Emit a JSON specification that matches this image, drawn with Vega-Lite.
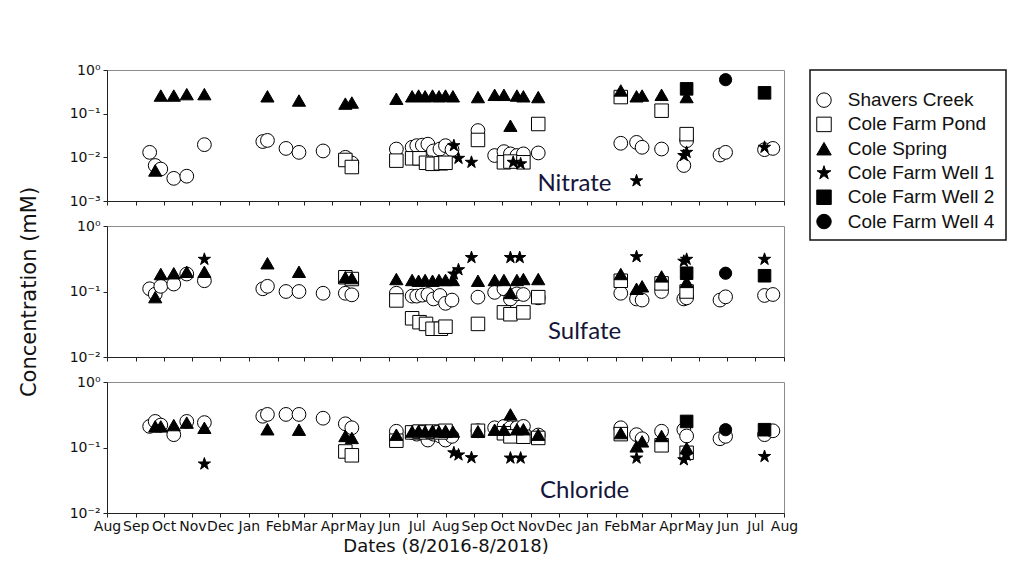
{
  "$schema": "https://vega.github.io/schema/vega-lite/v6.json",
  "background": "white",
  "padding": {"left": 17, "top": 62, "right": 8, "bottom": 5},
  "datasets": {
    "nitrate": [
      {"date": "2016/09/16", "site": "Shavers Creek", "value": 0.013},
      {"date": "2016/09/22", "site": "Shavers Creek", "value": 0.0065},
      {"date": "2016/09/28", "site": "Shavers Creek", "value": 0.0054},
      {"date": "2016/10/12", "site": "Shavers Creek", "value": 0.0033},
      {"date": "2016/10/26", "site": "Shavers Creek", "value": 0.0037},
      {"date": "2016/11/14", "site": "Shavers Creek", "value": 0.0195},
      {"date": "2017/01/16", "site": "Shavers Creek", "value": 0.023},
      {"date": "2017/01/21", "site": "Shavers Creek", "value": 0.0244},
      {"date": "2017/02/10", "site": "Shavers Creek", "value": 0.016},
      {"date": "2017/02/24", "site": "Shavers Creek", "value": 0.013},
      {"date": "2017/03/22", "site": "Shavers Creek", "value": 0.014},
      {"date": "2017/04/15", "site": "Shavers Creek", "value": 0.010},
      {"date": "2017/04/22", "site": "Shavers Creek", "value": 0.0074},
      {"date": "2017/06/09", "site": "Shavers Creek", "value": 0.0155},
      {"date": "2017/06/26", "site": "Shavers Creek", "value": 0.017},
      {"date": "2017/07/01", "site": "Shavers Creek", "value": 0.0185},
      {"date": "2017/07/07", "site": "Shavers Creek", "value": 0.019},
      {"date": "2017/07/13", "site": "Shavers Creek", "value": 0.020},
      {"date": "2017/07/19", "site": "Shavers Creek", "value": 0.014},
      {"date": "2017/07/26", "site": "Shavers Creek", "value": 0.0155},
      {"date": "2017/08/01", "site": "Shavers Creek", "value": 0.0185},
      {"date": "2017/08/08", "site": "Shavers Creek", "value": 0.015},
      {"date": "2017/09/05", "site": "Shavers Creek", "value": 0.041},
      {"date": "2017/09/23", "site": "Shavers Creek", "value": 0.011},
      {"date": "2017/10/03", "site": "Shavers Creek", "value": 0.0135},
      {"date": "2017/10/10", "site": "Shavers Creek", "value": 0.012},
      {"date": "2017/10/17", "site": "Shavers Creek", "value": 0.011},
      {"date": "2017/10/24", "site": "Shavers Creek", "value": 0.012},
      {"date": "2017/11/09", "site": "Shavers Creek", "value": 0.0126},
      {"date": "2018/02/06", "site": "Shavers Creek", "value": 0.021},
      {"date": "2018/02/23", "site": "Shavers Creek", "value": 0.022},
      {"date": "2018/03/01", "site": "Shavers Creek", "value": 0.017},
      {"date": "2018/03/22", "site": "Shavers Creek", "value": 0.0155},
      {"date": "2018/04/15", "site": "Shavers Creek", "value": 0.0065},
      {"date": "2018/04/18", "site": "Shavers Creek", "value": 0.024},
      {"date": "2018/05/24", "site": "Shavers Creek", "value": 0.0113},
      {"date": "2018/05/30", "site": "Shavers Creek", "value": 0.013},
      {"date": "2018/07/11", "site": "Shavers Creek", "value": 0.015},
      {"date": "2018/07/20", "site": "Shavers Creek", "value": 0.016},
      {"date": "2017/04/15", "site": "Cole Farm Pond", "value": 0.0087},
      {"date": "2017/04/22", "site": "Cole Farm Pond", "value": 0.006},
      {"date": "2017/06/09", "site": "Cole Farm Pond", "value": 0.0084},
      {"date": "2017/06/26", "site": "Cole Farm Pond", "value": 0.0095},
      {"date": "2017/07/04", "site": "Cole Farm Pond", "value": 0.0095},
      {"date": "2017/07/11", "site": "Cole Farm Pond", "value": 0.0075},
      {"date": "2017/07/18", "site": "Cole Farm Pond", "value": 0.0071},
      {"date": "2017/07/27", "site": "Cole Farm Pond", "value": 0.0073},
      {"date": "2017/08/01", "site": "Cole Farm Pond", "value": 0.0075},
      {"date": "2017/09/05", "site": "Cole Farm Pond", "value": 0.025},
      {"date": "2017/10/03", "site": "Cole Farm Pond", "value": 0.0077},
      {"date": "2017/10/10", "site": "Cole Farm Pond", "value": 0.008},
      {"date": "2017/10/24", "site": "Cole Farm Pond", "value": 0.0077},
      {"date": "2017/11/09", "site": "Cole Farm Pond", "value": 0.058},
      {"date": "2018/02/06", "site": "Cole Farm Pond", "value": 0.24},
      {"date": "2018/03/22", "site": "Cole Farm Pond", "value": 0.117},
      {"date": "2018/04/18", "site": "Cole Farm Pond", "value": 0.034},
      {"date": "2016/09/22", "site": "Cole Spring", "value": 0.005},
      {"date": "2016/09/28", "site": "Cole Spring", "value": 0.26},
      {"date": "2016/10/12", "site": "Cole Spring", "value": 0.26},
      {"date": "2016/10/26", "site": "Cole Spring", "value": 0.28},
      {"date": "2016/11/14", "site": "Cole Spring", "value": 0.28},
      {"date": "2017/01/21", "site": "Cole Spring", "value": 0.25},
      {"date": "2017/02/24", "site": "Cole Spring", "value": 0.2},
      {"date": "2017/04/15", "site": "Cole Spring", "value": 0.17},
      {"date": "2017/04/22", "site": "Cole Spring", "value": 0.18},
      {"date": "2017/06/09", "site": "Cole Spring", "value": 0.22},
      {"date": "2017/06/26", "site": "Cole Spring", "value": 0.25},
      {"date": "2017/07/03", "site": "Cole Spring", "value": 0.26},
      {"date": "2017/07/10", "site": "Cole Spring", "value": 0.25},
      {"date": "2017/07/18", "site": "Cole Spring", "value": 0.26},
      {"date": "2017/07/25", "site": "Cole Spring", "value": 0.25},
      {"date": "2017/08/01", "site": "Cole Spring", "value": 0.26},
      {"date": "2017/08/09", "site": "Cole Spring", "value": 0.25},
      {"date": "2017/09/05", "site": "Cole Spring", "value": 0.24},
      {"date": "2017/09/23", "site": "Cole Spring", "value": 0.27},
      {"date": "2017/10/03", "site": "Cole Spring", "value": 0.27},
      {"date": "2017/10/10", "site": "Cole Spring", "value": 0.053},
      {"date": "2017/10/17", "site": "Cole Spring", "value": 0.26},
      {"date": "2017/10/24", "site": "Cole Spring", "value": 0.25},
      {"date": "2017/11/09", "site": "Cole Spring", "value": 0.24},
      {"date": "2018/02/06", "site": "Cole Spring", "value": 0.34},
      {"date": "2018/02/23", "site": "Cole Spring", "value": 0.25},
      {"date": "2018/03/01", "site": "Cole Spring", "value": 0.26},
      {"date": "2018/03/22", "site": "Cole Spring", "value": 0.27},
      {"date": "2018/04/18", "site": "Cole Spring", "value": 0.24},
      {"date": "2017/08/10", "site": "Cole Farm Well 1", "value": 0.0185},
      {"date": "2017/08/15", "site": "Cole Farm Well 1", "value": 0.0095},
      {"date": "2017/08/29", "site": "Cole Farm Well 1", "value": 0.0077},
      {"date": "2017/10/13", "site": "Cole Farm Well 1", "value": 0.0077},
      {"date": "2017/10/21", "site": "Cole Farm Well 1", "value": 0.0071},
      {"date": "2018/02/23", "site": "Cole Farm Well 1", "value": 0.0029},
      {"date": "2018/04/15", "site": "Cole Farm Well 1", "value": 0.011},
      {"date": "2018/04/18", "site": "Cole Farm Well 1", "value": 0.013},
      {"date": "2018/07/11", "site": "Cole Farm Well 1", "value": 0.017},
      {"date": "2018/04/18", "site": "Cole Farm Well 2", "value": 0.37},
      {"date": "2018/07/11", "site": "Cole Farm Well 2", "value": 0.3},
      {"date": "2018/05/30", "site": "Cole Farm Well 4", "value": 0.6}
    ],
    "sulfate": [
      {"date": "2016/09/16", "site": "Shavers Creek", "value": 0.11},
      {"date": "2016/09/22", "site": "Shavers Creek", "value": 0.091},
      {"date": "2016/09/28", "site": "Shavers Creek", "value": 0.12},
      {"date": "2016/10/12", "site": "Shavers Creek", "value": 0.13},
      {"date": "2016/10/26", "site": "Shavers Creek", "value": 0.185},
      {"date": "2016/11/14", "site": "Shavers Creek", "value": 0.146},
      {"date": "2017/01/16", "site": "Shavers Creek", "value": 0.11},
      {"date": "2017/01/21", "site": "Shavers Creek", "value": 0.12},
      {"date": "2017/02/10", "site": "Shavers Creek", "value": 0.10},
      {"date": "2017/02/24", "site": "Shavers Creek", "value": 0.10},
      {"date": "2017/03/22", "site": "Shavers Creek", "value": 0.094},
      {"date": "2017/04/15", "site": "Shavers Creek", "value": 0.094},
      {"date": "2017/04/22", "site": "Shavers Creek", "value": 0.089},
      {"date": "2017/06/09", "site": "Shavers Creek", "value": 0.094},
      {"date": "2017/06/26", "site": "Shavers Creek", "value": 0.085},
      {"date": "2017/07/01", "site": "Shavers Creek", "value": 0.085},
      {"date": "2017/07/07", "site": "Shavers Creek", "value": 0.088},
      {"date": "2017/07/13", "site": "Shavers Creek", "value": 0.09},
      {"date": "2017/07/19", "site": "Shavers Creek", "value": 0.077},
      {"date": "2017/07/26", "site": "Shavers Creek", "value": 0.087},
      {"date": "2017/08/01", "site": "Shavers Creek", "value": 0.066},
      {"date": "2017/08/08", "site": "Shavers Creek", "value": 0.074},
      {"date": "2017/09/05", "site": "Shavers Creek", "value": 0.082},
      {"date": "2017/09/23", "site": "Shavers Creek", "value": 0.097},
      {"date": "2017/10/03", "site": "Shavers Creek", "value": 0.11},
      {"date": "2017/10/10", "site": "Shavers Creek", "value": 0.077},
      {"date": "2017/10/17", "site": "Shavers Creek", "value": 0.092},
      {"date": "2017/10/24", "site": "Shavers Creek", "value": 0.09},
      {"date": "2017/11/09", "site": "Shavers Creek", "value": 0.08},
      {"date": "2018/02/06", "site": "Shavers Creek", "value": 0.094},
      {"date": "2018/02/23", "site": "Shavers Creek", "value": 0.077},
      {"date": "2018/03/01", "site": "Shavers Creek", "value": 0.074},
      {"date": "2018/03/22", "site": "Shavers Creek", "value": 0.10},
      {"date": "2018/04/15", "site": "Shavers Creek", "value": 0.077},
      {"date": "2018/04/18", "site": "Shavers Creek", "value": 0.08},
      {"date": "2018/05/24", "site": "Shavers Creek", "value": 0.074},
      {"date": "2018/05/30", "site": "Shavers Creek", "value": 0.083},
      {"date": "2018/07/11", "site": "Shavers Creek", "value": 0.087},
      {"date": "2018/07/20", "site": "Shavers Creek", "value": 0.09},
      {"date": "2017/04/15", "site": "Cole Farm Pond", "value": 0.165},
      {"date": "2017/04/22", "site": "Cole Farm Pond", "value": 0.155},
      {"date": "2017/06/09", "site": "Cole Farm Pond", "value": 0.073},
      {"date": "2017/06/26", "site": "Cole Farm Pond", "value": 0.039},
      {"date": "2017/07/04", "site": "Cole Farm Pond", "value": 0.034},
      {"date": "2017/07/11", "site": "Cole Farm Pond", "value": 0.032},
      {"date": "2017/07/18", "site": "Cole Farm Pond", "value": 0.027},
      {"date": "2017/07/27", "site": "Cole Farm Pond", "value": 0.027},
      {"date": "2017/08/01", "site": "Cole Farm Pond", "value": 0.029},
      {"date": "2017/09/05", "site": "Cole Farm Pond", "value": 0.032},
      {"date": "2017/10/03", "site": "Cole Farm Pond", "value": 0.048},
      {"date": "2017/10/10", "site": "Cole Farm Pond", "value": 0.045},
      {"date": "2017/10/24", "site": "Cole Farm Pond", "value": 0.048},
      {"date": "2017/11/09", "site": "Cole Farm Pond", "value": 0.082},
      {"date": "2018/02/06", "site": "Cole Farm Pond", "value": 0.146},
      {"date": "2018/03/22", "site": "Cole Farm Pond", "value": 0.133},
      {"date": "2018/04/18", "site": "Cole Farm Pond", "value": 0.1},
      {"date": "2016/09/22", "site": "Cole Spring", "value": 0.082},
      {"date": "2016/09/28", "site": "Cole Spring", "value": 0.185},
      {"date": "2016/10/12", "site": "Cole Spring", "value": 0.19},
      {"date": "2016/10/26", "site": "Cole Spring", "value": 0.2},
      {"date": "2016/11/14", "site": "Cole Spring", "value": 0.2},
      {"date": "2017/01/21", "site": "Cole Spring", "value": 0.27},
      {"date": "2017/02/24", "site": "Cole Spring", "value": 0.2},
      {"date": "2017/04/15", "site": "Cole Spring", "value": 0.165},
      {"date": "2017/04/22", "site": "Cole Spring", "value": 0.16},
      {"date": "2017/06/09", "site": "Cole Spring", "value": 0.155},
      {"date": "2017/06/26", "site": "Cole Spring", "value": 0.15},
      {"date": "2017/07/03", "site": "Cole Spring", "value": 0.146},
      {"date": "2017/07/10", "site": "Cole Spring", "value": 0.15},
      {"date": "2017/07/18", "site": "Cole Spring", "value": 0.146},
      {"date": "2017/07/25", "site": "Cole Spring", "value": 0.15},
      {"date": "2017/08/01", "site": "Cole Spring", "value": 0.15},
      {"date": "2017/08/09", "site": "Cole Spring", "value": 0.15},
      {"date": "2017/09/05", "site": "Cole Spring", "value": 0.146},
      {"date": "2017/09/23", "site": "Cole Spring", "value": 0.15},
      {"date": "2017/10/03", "site": "Cole Spring", "value": 0.15},
      {"date": "2017/10/10", "site": "Cole Spring", "value": 0.095},
      {"date": "2017/10/17", "site": "Cole Spring", "value": 0.15},
      {"date": "2017/10/24", "site": "Cole Spring", "value": 0.155},
      {"date": "2017/11/09", "site": "Cole Spring", "value": 0.155},
      {"date": "2018/02/06", "site": "Cole Spring", "value": 0.185},
      {"date": "2018/02/23", "site": "Cole Spring", "value": 0.11},
      {"date": "2018/03/01", "site": "Cole Spring", "value": 0.12},
      {"date": "2018/03/22", "site": "Cole Spring", "value": 0.17},
      {"date": "2018/04/18", "site": "Cole Spring", "value": 0.14},
      {"date": "2016/11/14", "site": "Cole Farm Well 1", "value": 0.31},
      {"date": "2017/08/10", "site": "Cole Farm Well 1", "value": 0.185},
      {"date": "2017/08/15", "site": "Cole Farm Well 1", "value": 0.215},
      {"date": "2017/08/29", "site": "Cole Farm Well 1", "value": 0.33},
      {"date": "2017/10/10", "site": "Cole Farm Well 1", "value": 0.33},
      {"date": "2017/10/20", "site": "Cole Farm Well 1", "value": 0.33},
      {"date": "2018/02/23", "site": "Cole Farm Well 1", "value": 0.34},
      {"date": "2018/04/15", "site": "Cole Farm Well 1", "value": 0.29},
      {"date": "2018/04/18", "site": "Cole Farm Well 1", "value": 0.31},
      {"date": "2018/07/11", "site": "Cole Farm Well 1", "value": 0.31},
      {"date": "2018/04/18", "site": "Cole Farm Well 2", "value": 0.19},
      {"date": "2018/07/11", "site": "Cole Farm Well 2", "value": 0.174},
      {"date": "2018/05/30", "site": "Cole Farm Well 4", "value": 0.19}
    ],
    "chloride": [
      {"date": "2016/09/16", "site": "Shavers Creek", "value": 0.21},
      {"date": "2016/09/22", "site": "Shavers Creek", "value": 0.25},
      {"date": "2016/09/28", "site": "Shavers Creek", "value": 0.22},
      {"date": "2016/10/12", "site": "Shavers Creek", "value": 0.157},
      {"date": "2016/10/26", "site": "Shavers Creek", "value": 0.25},
      {"date": "2016/11/14", "site": "Shavers Creek", "value": 0.24},
      {"date": "2017/01/16", "site": "Shavers Creek", "value": 0.30},
      {"date": "2017/01/21", "site": "Shavers Creek", "value": 0.32},
      {"date": "2017/02/10", "site": "Shavers Creek", "value": 0.32},
      {"date": "2017/02/24", "site": "Shavers Creek", "value": 0.32},
      {"date": "2017/03/22", "site": "Shavers Creek", "value": 0.28},
      {"date": "2017/04/15", "site": "Shavers Creek", "value": 0.23},
      {"date": "2017/04/22", "site": "Shavers Creek", "value": 0.20},
      {"date": "2017/06/09", "site": "Shavers Creek", "value": 0.177},
      {"date": "2017/06/26", "site": "Shavers Creek", "value": 0.17},
      {"date": "2017/07/01", "site": "Shavers Creek", "value": 0.16},
      {"date": "2017/07/07", "site": "Shavers Creek", "value": 0.165},
      {"date": "2017/07/13", "site": "Shavers Creek", "value": 0.13},
      {"date": "2017/07/19", "site": "Shavers Creek", "value": 0.16},
      {"date": "2017/07/26", "site": "Shavers Creek", "value": 0.15},
      {"date": "2017/08/01", "site": "Shavers Creek", "value": 0.13},
      {"date": "2017/08/08", "site": "Shavers Creek", "value": 0.148},
      {"date": "2017/09/05", "site": "Shavers Creek", "value": 0.18},
      {"date": "2017/09/23", "site": "Shavers Creek", "value": 0.20},
      {"date": "2017/10/03", "site": "Shavers Creek", "value": 0.21},
      {"date": "2017/10/10", "site": "Shavers Creek", "value": 0.20},
      {"date": "2017/10/17", "site": "Shavers Creek", "value": 0.20},
      {"date": "2017/10/24", "site": "Shavers Creek", "value": 0.21},
      {"date": "2017/11/09", "site": "Shavers Creek", "value": 0.155},
      {"date": "2018/02/06", "site": "Shavers Creek", "value": 0.20},
      {"date": "2018/02/23", "site": "Shavers Creek", "value": 0.157},
      {"date": "2018/03/01", "site": "Shavers Creek", "value": 0.136},
      {"date": "2018/03/22", "site": "Shavers Creek", "value": 0.177},
      {"date": "2018/04/15", "site": "Shavers Creek", "value": 0.187},
      {"date": "2018/04/18", "site": "Shavers Creek", "value": 0.15},
      {"date": "2018/05/24", "site": "Shavers Creek", "value": 0.136},
      {"date": "2018/05/30", "site": "Shavers Creek", "value": 0.148},
      {"date": "2018/07/11", "site": "Shavers Creek", "value": 0.157},
      {"date": "2018/07/20", "site": "Shavers Creek", "value": 0.18},
      {"date": "2017/04/15", "site": "Cole Farm Pond", "value": 0.087},
      {"date": "2017/04/22", "site": "Cole Farm Pond", "value": 0.076},
      {"date": "2017/06/09", "site": "Cole Farm Pond", "value": 0.127},
      {"date": "2017/06/26", "site": "Cole Farm Pond", "value": 0.17},
      {"date": "2017/07/04", "site": "Cole Farm Pond", "value": 0.175},
      {"date": "2017/07/11", "site": "Cole Farm Pond", "value": 0.17},
      {"date": "2017/07/18", "site": "Cole Farm Pond", "value": 0.175},
      {"date": "2017/07/27", "site": "Cole Farm Pond", "value": 0.17},
      {"date": "2017/08/01", "site": "Cole Farm Pond", "value": 0.18},
      {"date": "2017/09/05", "site": "Cole Farm Pond", "value": 0.18},
      {"date": "2017/10/03", "site": "Cole Farm Pond", "value": 0.165},
      {"date": "2017/10/10", "site": "Cole Farm Pond", "value": 0.148},
      {"date": "2017/10/24", "site": "Cole Farm Pond", "value": 0.146},
      {"date": "2017/11/09", "site": "Cole Farm Pond", "value": 0.14},
      {"date": "2018/02/06", "site": "Cole Farm Pond", "value": 0.16},
      {"date": "2018/03/22", "site": "Cole Farm Pond", "value": 0.108},
      {"date": "2018/04/18", "site": "Cole Farm Pond", "value": 0.083},
      {"date": "2016/09/22", "site": "Cole Spring", "value": 0.21},
      {"date": "2016/09/28", "site": "Cole Spring", "value": 0.21},
      {"date": "2016/10/12", "site": "Cole Spring", "value": 0.22},
      {"date": "2016/10/26", "site": "Cole Spring", "value": 0.24},
      {"date": "2016/11/14", "site": "Cole Spring", "value": 0.2},
      {"date": "2017/01/21", "site": "Cole Spring", "value": 0.19},
      {"date": "2017/02/24", "site": "Cole Spring", "value": 0.187},
      {"date": "2017/04/15", "site": "Cole Spring", "value": 0.15},
      {"date": "2017/04/22", "site": "Cole Spring", "value": 0.14},
      {"date": "2017/06/09", "site": "Cole Spring", "value": 0.157},
      {"date": "2017/06/26", "site": "Cole Spring", "value": 0.175},
      {"date": "2017/07/03", "site": "Cole Spring", "value": 0.18},
      {"date": "2017/07/10", "site": "Cole Spring", "value": 0.175},
      {"date": "2017/07/18", "site": "Cole Spring", "value": 0.18},
      {"date": "2017/07/25", "site": "Cole Spring", "value": 0.175},
      {"date": "2017/08/01", "site": "Cole Spring", "value": 0.18},
      {"date": "2017/08/09", "site": "Cole Spring", "value": 0.175},
      {"date": "2017/09/05", "site": "Cole Spring", "value": 0.177},
      {"date": "2017/09/23", "site": "Cole Spring", "value": 0.187},
      {"date": "2017/10/03", "site": "Cole Spring", "value": 0.187},
      {"date": "2017/10/10", "site": "Cole Spring", "value": 0.32},
      {"date": "2017/10/17", "site": "Cole Spring", "value": 0.19},
      {"date": "2017/10/24", "site": "Cole Spring", "value": 0.19},
      {"date": "2017/11/09", "site": "Cole Spring", "value": 0.157},
      {"date": "2018/02/06", "site": "Cole Spring", "value": 0.166},
      {"date": "2018/02/23", "site": "Cole Spring", "value": 0.104},
      {"date": "2018/03/01", "site": "Cole Spring", "value": 0.124},
      {"date": "2018/03/22", "site": "Cole Spring", "value": 0.15},
      {"date": "2018/04/18", "site": "Cole Spring", "value": 0.098},
      {"date": "2016/11/14", "site": "Cole Farm Well 1", "value": 0.056},
      {"date": "2017/08/10", "site": "Cole Farm Well 1", "value": 0.083},
      {"date": "2017/08/15", "site": "Cole Farm Well 1", "value": 0.077},
      {"date": "2017/08/29", "site": "Cole Farm Well 1", "value": 0.07},
      {"date": "2017/10/10", "site": "Cole Farm Well 1", "value": 0.069},
      {"date": "2017/10/21", "site": "Cole Farm Well 1", "value": 0.069},
      {"date": "2018/02/23", "site": "Cole Farm Well 1", "value": 0.069},
      {"date": "2018/04/15", "site": "Cole Farm Well 1", "value": 0.065},
      {"date": "2018/04/18", "site": "Cole Farm Well 1", "value": 0.076},
      {"date": "2018/07/11", "site": "Cole Farm Well 1", "value": 0.073},
      {"date": "2018/04/18", "site": "Cole Farm Well 2", "value": 0.25},
      {"date": "2018/07/11", "site": "Cole Farm Well 2", "value": 0.187},
      {"date": "2018/05/30", "site": "Cole Farm Well 4", "value": 0.187}
    ],
    "labels": [
      {"date": "2017/12/18", "panel": "Nitrate", "value": 0.00245},
      {"date": "2017/12/29", "panel": "Sulfate", "value": 0.024},
      {"date": "2017/12/29", "panel": "Chloride", "value": 0.0219}
    ],
    "sites": [
      {"site": "Shavers Creek"},
      {"site": "Cole Farm Pond"},
      {"site": "Cole Spring"},
      {"site": "Cole Farm Well 1"},
      {"site": "Cole Farm Well 2"},
      {"site": "Cole Farm Well 4"}
    ]
  },
  "spacing": 10,
  "hconcat": [
    {
      "spacing": 25,
      "bounds": "flush",
      "vconcat": [
        {
          "width": 677,
          "height": 131,
          "encoding": {
            "x": {"field": "date", "type": "temporal",
                  "scale": {"domain": [{"year": 2016, "month": 8, "date": 1}, {"year": 2018, "month": 8, "date": 1}], "nice": false},
                  "axis": {"labels": false, "title": null, "tickCount": {"interval": "month", "step": 1}}},
            "y": {"field": "value", "type": "quantitative",
                  "scale": {"type": "log", "domain": [0.001, 1], "nice": false},
                  "axis": {"values": [0.001, 0.01, 0.1, 1], "title": null,
                           "labelExpr": "round(log(datum.value)/LN10) == 0 ? '10⁰' : round(log(datum.value)/LN10) == -1 ? '10⁻¹' : round(log(datum.value)/LN10) == -2 ? '10⁻²' : '10⁻³'"}}
          },
          "layer": [
            {
              "data": {"name": "nitrate"},
              "mark": {"type": "point", "filled": true, "stroke": "black", "strokeWidth": 1, "opacity": 1},
              "encoding": {
                "shape": {"field": "site", "type": "nominal",
                          "scale": {"domain": ["Shavers Creek", "Cole Farm Pond", "Cole Spring", "Cole Farm Well 1", "Cole Farm Well 2", "Cole Farm Well 4"],
                                    "range": ["circle", "square", "triangle-up", "M0,-1L0.2245,-0.309L0.951,-0.309L0.363,0.118L0.588,0.809L0,0.382L-0.588,0.809L-0.363,0.118L-0.951,-0.309L-0.2245,-0.309Z", "square", "circle"]},
                          "legend": null},
                "fill": {"field": "site", "type": "nominal",
                         "scale": {"domain": ["Shavers Creek", "Cole Farm Pond", "Cole Spring", "Cole Farm Well 1", "Cole Farm Well 2", "Cole Farm Well 4"],
                                   "range": ["white", "white", "black", "black", "black", "black"]},
                         "legend": null},
                "size": {"field": "site", "type": "nominal",
                         "scale": {"domain": ["Shavers Creek", "Cole Farm Pond", "Cole Spring", "Cole Farm Well 1", "Cole Farm Well 2", "Cole Farm Well 4"],
                                   "range": [190, 150, 180, 290, 340, 380]},
                         "legend": null}
              }
            },
            {
              "data": {"name": "labels"},
              "transform": [{"filter": "datum.panel == 'Nitrate'"}],
              "mark": {"type": "text", "font": "Lato", "fontSize": 24, "color": "#15153a", "align": "center", "baseline": "middle"},
              "encoding": {"text": {"field": "panel"}}
            }
          ]
        },
        {
          "width": 677,
          "height": 131,
          "encoding": {
            "x": {"field": "date", "type": "temporal",
                  "scale": {"domain": [{"year": 2016, "month": 8, "date": 1}, {"year": 2018, "month": 8, "date": 1}], "nice": false},
                  "axis": {"labels": false, "title": null, "tickCount": {"interval": "month", "step": 1}}},
            "y": {"field": "value", "type": "quantitative",
                  "scale": {"type": "log", "domain": [0.01, 1], "nice": false},
                  "axis": {"values": [0.01, 0.1, 1], "title": "Concentration (mM)", "titleFontSize": 21, "titlePadding": 30,
                           "labelExpr": "round(log(datum.value)/LN10) == 0 ? '10⁰' : round(log(datum.value)/LN10) == -1 ? '10⁻¹' : round(log(datum.value)/LN10) == -2 ? '10⁻²' : '10⁻³'"}}
          },
          "layer": [
            {
              "data": {"name": "sulfate"},
              "mark": {"type": "point", "filled": true, "stroke": "black", "strokeWidth": 1, "opacity": 1},
              "encoding": {
                "shape": {"field": "site", "type": "nominal",
                          "scale": {"domain": ["Shavers Creek", "Cole Farm Pond", "Cole Spring", "Cole Farm Well 1", "Cole Farm Well 2", "Cole Farm Well 4"],
                                    "range": ["circle", "square", "triangle-up", "M0,-1L0.2245,-0.309L0.951,-0.309L0.363,0.118L0.588,0.809L0,0.382L-0.588,0.809L-0.363,0.118L-0.951,-0.309L-0.2245,-0.309Z", "square", "circle"]},
                          "legend": null},
                "fill": {"field": "site", "type": "nominal",
                         "scale": {"domain": ["Shavers Creek", "Cole Farm Pond", "Cole Spring", "Cole Farm Well 1", "Cole Farm Well 2", "Cole Farm Well 4"],
                                   "range": ["white", "white", "black", "black", "black", "black"]},
                         "legend": null},
                "size": {"field": "site", "type": "nominal",
                         "scale": {"domain": ["Shavers Creek", "Cole Farm Pond", "Cole Spring", "Cole Farm Well 1", "Cole Farm Well 2", "Cole Farm Well 4"],
                                   "range": [190, 150, 180, 290, 340, 380]},
                         "legend": null}
              }
            },
            {
              "data": {"name": "labels"},
              "transform": [{"filter": "datum.panel == 'Sulfate'"}],
              "mark": {"type": "text", "font": "Lato", "fontSize": 24, "color": "#15153a", "align": "center", "baseline": "middle"},
              "encoding": {"text": {"field": "panel"}}
            }
          ]
        },
        {
          "width": 677,
          "height": 131,
          "encoding": {
            "x": {"field": "date", "type": "temporal",
                  "scale": {"domain": [{"year": 2016, "month": 8, "date": 1}, {"year": 2018, "month": 8, "date": 1}], "nice": false},
                  "axis": {"format": "%b", "tickCount": {"interval": "month", "step": 1}, "labelOverlap": false, "labelFlush": false,
                           "labelFontSize": 14, "labelPadding": 2, "title": "Dates (8/2016-8/2018)", "titleFontSize": 18, "titlePadding": 4}},
            "y": {"field": "value", "type": "quantitative",
                  "scale": {"type": "log", "domain": [0.01, 1], "nice": false},
                  "axis": {"values": [0.01, 0.1, 1], "title": null,
                           "labelExpr": "round(log(datum.value)/LN10) == 0 ? '10⁰' : round(log(datum.value)/LN10) == -1 ? '10⁻¹' : round(log(datum.value)/LN10) == -2 ? '10⁻²' : '10⁻³'"}}
          },
          "layer": [
            {
              "data": {"name": "chloride"},
              "mark": {"type": "point", "filled": true, "stroke": "black", "strokeWidth": 1, "opacity": 1},
              "encoding": {
                "shape": {"field": "site", "type": "nominal",
                          "scale": {"domain": ["Shavers Creek", "Cole Farm Pond", "Cole Spring", "Cole Farm Well 1", "Cole Farm Well 2", "Cole Farm Well 4"],
                                    "range": ["circle", "square", "triangle-up", "M0,-1L0.2245,-0.309L0.951,-0.309L0.363,0.118L0.588,0.809L0,0.382L-0.588,0.809L-0.363,0.118L-0.951,-0.309L-0.2245,-0.309Z", "square", "circle"]},
                          "legend": null},
                "fill": {"field": "site", "type": "nominal",
                         "scale": {"domain": ["Shavers Creek", "Cole Farm Pond", "Cole Spring", "Cole Farm Well 1", "Cole Farm Well 2", "Cole Farm Well 4"],
                                   "range": ["white", "white", "black", "black", "black", "black"]},
                         "legend": null},
                "size": {"field": "site", "type": "nominal",
                         "scale": {"domain": ["Shavers Creek", "Cole Farm Pond", "Cole Spring", "Cole Farm Well 1", "Cole Farm Well 2", "Cole Farm Well 4"],
                                   "range": [190, 150, 180, 290, 340, 380]},
                         "legend": null}
              }
            },
            {
              "data": {"name": "labels"},
              "transform": [{"filter": "datum.panel == 'Chloride'"}],
              "mark": {"type": "text", "font": "Lato", "fontSize": 24, "color": "#15153a", "align": "center", "baseline": "middle"},
              "encoding": {"text": {"field": "panel"}}
            }
          ]
        }
      ],
      "resolve": {
        "scale": {"shape": "independent", "fill": "independent", "size": "independent"}
      }
    },
    {
      "width": 196,
      "height": 170,
      "view": {"stroke": "#111111", "strokeWidth": 1.5},
      "data": {"name": "sites"},
      "encoding": {
        "y": {"field": "site", "type": "nominal", "axis": null,
              "sort": ["Shavers Creek", "Cole Farm Pond", "Cole Spring", "Cole Farm Well 1", "Cole Farm Well 2", "Cole Farm Well 4"],
              "scale": {"type": "point", "padding": 1, "align": 0.62}}
      },
      "layer": [
        {
          "mark": {"type": "point", "filled": true, "stroke": "black", "strokeWidth": 1, "opacity": 1, "size": 210},
          "encoding": {
            "x": {"datum": 0, "type": "quantitative", "scale": {"domain": [-1, 12.07]}, "axis": null},
            "shape": {"field": "site", "type": "nominal",
                      "scale": {"domain": ["Shavers Creek", "Cole Farm Pond", "Cole Spring", "Cole Farm Well 1", "Cole Farm Well 2", "Cole Farm Well 4"],
                                "range": ["circle", "square", "triangle-up", "M0,-1L0.2245,-0.309L0.951,-0.309L0.363,0.118L0.588,0.809L0,0.382L-0.588,0.809L-0.363,0.118L-0.951,-0.309L-0.2245,-0.309Z", "square", "circle"]},
                      "legend": null},
            "fill": {"field": "site", "type": "nominal",
                     "scale": {"domain": ["Shavers Creek", "Cole Farm Pond", "Cole Spring", "Cole Farm Well 1", "Cole Farm Well 2", "Cole Farm Well 4"],
                               "range": ["white", "white", "black", "black", "black", "black"]},
                     "legend": null}
          }
        },
        {
          "mark": {"type": "text", "font": "Liberation Sans", "fontSize": 19, "color": "#111111", "align": "left", "baseline": "middle"},
          "encoding": {
            "x": {"datum": 1.7, "type": "quantitative"},
            "text": {"field": "site"}
          }
        }
      ]
    }
  ],
  "resolve": {
    "scale": {"shape": "independent", "fill": "independent", "size": "independent"}
  },
  "config": {
    "view": {"stroke": "#8c8c8c", "strokeWidth": 1},
    "axis": {
      "grid": false,
      "domainColor": "#222222",
      "tickColor": "#222222",
      "tickSize": 4,
      "labelColor": "#111111",
      "titleColor": "#111111",
      "labelFont": "DejaVu Sans",
      "titleFont": "DejaVu Sans",
      "labelFontSize": 14,
      "titleFontWeight": "normal",
      "labelPadding": 3
    }
  }
}
